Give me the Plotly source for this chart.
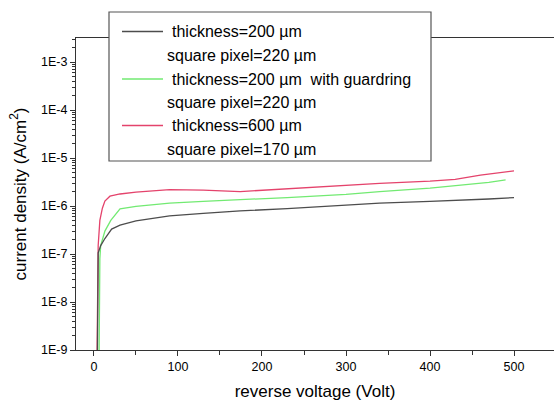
import plotly.graph_objects as go

# ---------------- data ----------------
black_v = [4, 4.5, 5, 8, 13, 21, 31, 50, 90, 130, 174, 230, 300, 340, 400, 440, 470, 500]
black_j = [5e-10, 5e-8, 1.05e-7, 1.5e-7, 2.1e-7, 3.3e-7, 4.0e-7, 4.9e-7, 6.2e-7, 7.0e-7,
           7.9e-7, 8.8e-7, 1.05e-6, 1.15e-6, 1.25e-6, 1.32e-6, 1.4e-6, 1.5e-6]

green_v = [6, 6.5, 7, 8, 13, 20, 31, 50, 90, 130, 174, 230, 300, 340, 400, 444, 470, 490]
green_j = [5e-10, 1e-8, 8e-8, 1.5e-7, 3e-7, 5e-7, 8.7e-7, 9.8e-7, 1.15e-6, 1.25e-6,
           1.35e-6, 1.5e-6, 1.75e-6, 2.0e-6, 2.35e-6, 2.75e-6, 3.1e-6, 3.5e-6]

red_v = [3.5, 4, 5, 7, 10, 13, 19, 31, 50, 90, 130, 174, 230, 280, 340, 400, 430, 460, 500]
red_j = [5e-10, 2e-8, 1.5e-7, 5e-7, 9e-7, 1.27e-6, 1.6e-6, 1.78e-6, 1.95e-6, 2.2e-6,
         2.15e-6, 2.0e-6, 2.3e-6, 2.6e-6, 2.95e-6, 3.3e-6, 3.6e-6, 4.4e-6, 5.4e-6]

x_ticks = [0, 100, 200, 300, 400, 500]
y_ticks = [1e-9, 1e-8, 1e-7, 1e-6, 1e-5, 1e-4, 1e-3]
y_ticktext = ["1E-9", "1E-8", "1E-7", "1E-6", "1E-5", "1E-4", "1E-3"]

legend_rows = [
    ("thickness=200 µm", "square pixel=220 µm"),
    ("thickness=200 µm\u00a0 with guardring", "square pixel=220 µm"),
    ("thickness=600 µm", "square pixel=170 µm"),
]

# ---------------- styles ----------------
C_BLACK = "#4d4d4d"
C_GREEN = "#72ea72"
C_RED = "#e4436c"
FONT = "Liberation Sans, Arial, sans-serif"

W, H = 554, 403
L, R, T, B = 76, 0, 38, 53
PW, PH = W - L - R, H - T - B


def px(xp):
    return (xp - L) / PW


def py(yp):
    return (H - B - yp) / PH


fig = go.Figure()
fig.add_trace(go.Scatter(x=green_v, y=green_j, mode="lines",
                         line=dict(color=C_GREEN, width=1.3), name="green"))
fig.add_trace(go.Scatter(x=red_v, y=red_j, mode="lines",
                         line=dict(color=C_RED, width=1.3), name="red"))
fig.add_trace(go.Scatter(x=black_v, y=black_j, mode="lines",
                         line=dict(color=C_BLACK, width=1.3), name="black"))

minor_y = [k * 10.0 ** e for e in range(-9, -2) for k in range(2, 10) if k * 10.0 ** e < 10 ** -2.5]
minor_x = [50, 150, 250, 350, 450]

fig.update_layout(
    width=W, height=H,
    margin=dict(l=L, r=R, t=T, b=B, pad=0),
    paper_bgcolor="white", plot_bgcolor="white",
    showlegend=False,
    font=dict(family=FONT, color="black"),
    xaxis=dict(
        range=[-21.4, 547.6], showgrid=False, zeroline=False,
        showline=True, linecolor="#333", linewidth=1.2, mirror=True,
        tickmode="array", tickvals=x_ticks, ticks="outside", ticklen=5,
        tickcolor="#333", tickwidth=1.2,
        tickfont=dict(size=12.5, family=FONT),
        minor=dict(tickmode="array", tickvals=minor_x, ticks="outside",
                   ticklen=4, tickcolor="#333", tickwidth=1, showgrid=False),
        title=dict(text="reverse voltage (Volt)", font=dict(size=17, family=FONT), standoff=12),
    ),
    yaxis=dict(
        type="log", range=[-9, -2.5], showgrid=False, zeroline=False,
        showline=True, linecolor="#333", linewidth=1.2,
        tickmode="array", tickvals=y_ticks, ticktext=y_ticktext,
        ticks="outside", ticklen=5, tickcolor="#333", tickwidth=1.2,
        tickfont=dict(size=12.5, family=FONT),
        minor=dict(tickmode="array", tickvals=minor_y, ticks="outside",
                   ticklen=3, tickcolor="#333", tickwidth=1, showgrid=False),
        title=dict(text="current density (A/cm<sup>2</sup>)", font=dict(size=17, family=FONT), standoff=10),
    ),
)

# ---------------- legend box (drawn manually to match the original) ----------------
box_l, box_r, box_t, box_b = 109, 431, 12, 161
fig.add_shape(type="rect", xref="paper", yref="paper",
              x0=px(box_l), x1=px(box_r), y0=py(box_b), y1=py(box_t),
              line=dict(color="#555", width=1.2), fillcolor="white", layer="above")

row_y = [31.5, 55, 79, 102, 125.5, 149]
colors = [C_BLACK, C_GREEN, C_RED]
for i, (first, second) in enumerate(legend_rows):
    y1 = row_y[2 * i]
    y2 = row_y[2 * i + 1]
    fig.add_shape(type="line", xref="paper", yref="paper",
                  x0=px(122), x1=px(163), y0=py(y1), y1=py(y1),
                  line=dict(color=colors[i], width=1.3), layer="above")
    fig.add_annotation(xref="paper", yref="paper", x=px(170), y=py(y1),
                       text=first, showarrow=False, xanchor="left", yanchor="middle",
                       font=dict(size=16, family=FONT, color="black"))
    fig.add_annotation(xref="paper", yref="paper", x=px(165), y=py(y2),
                       text=second, showarrow=False, xanchor="left", yanchor="middle",
                       font=dict(size=16, family=FONT, color="black"))

fig.write_html("out.html")
